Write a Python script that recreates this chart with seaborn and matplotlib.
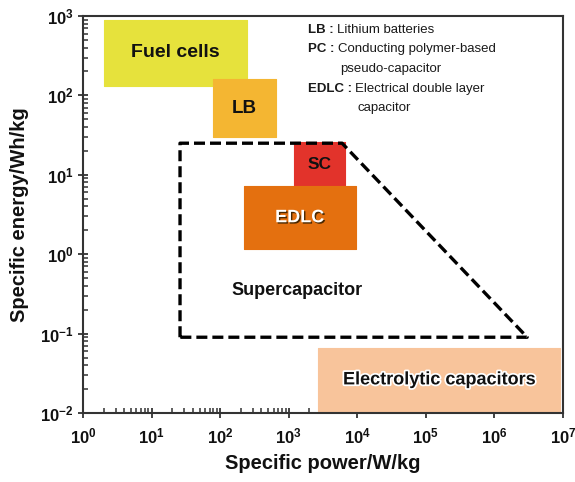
import matplotlib
matplotlib.use("Agg")
import matplotlib.pyplot as plt
import matplotlib.patheffects as pe
from matplotlib.ticker import FixedLocator, FixedFormatter, LogLocator, NullFormatter
import numpy as np
import pandas as pd
import seaborn as sns

# Device regions on the Ragone plot: power (W/kg) and energy (Wh/kg) ranges
devices = ["Fuel cells", "LB", "SC", "EDLC", "Electrolytic capacitors"]
power_lo = [2, 80, 1200, 220, 2700]
power_hi = [250, 650, 6600, 9500, 9.0e6]
energy_lo = [130, 30, 7.0, 1.15, 0.0105]
energy_hi = [900, 160, 26, 7.2, 0.065]
colors = ["#E6E23C", "#F4B632", "#E2332B", "#E4700F", "#F8C49B"]

# Outline of the supercapacitor domain
sc_power = [26, 26, 6000, 3.0e6, 26]
sc_energy = [0.09, 25, 25, 0.09, 0.09]

x_ticks = [1e0, 1e1, 1e2, 1e3, 1e4, 1e5, 1e6, 1e7]
x_labels = [r"$\mathbf{10^{%d}}$" % i for i in range(0, 8)]
y_ticks = [1e-2, 1e-1, 1e0, 1e1, 1e2, 1e3]
y_labels = [r"$\mathbf{10^{%d}}$" % i for i in range(-2, 4)]

# Abbreviation key: (abbreviation, description, x, y) in pixels
key_abbrev = [("LB :", "Lithium batteries", 308, 30),
              ("PC :", "Conducting polymer-based", 308, 49),
              ("", "pseudo-capacitor", 340, 69),
              ("EDLC :", "Electrical double layer", 308, 89),
              ("", "capacitor", 357, 108)]

sns.set_style("ticks")
plt.rcParams["font.family"] = ["Liberation Sans", "DejaVu Sans"]
plt.rcParams["mathtext.fontset"] = "custom"
plt.rcParams["mathtext.bf"] = "Liberation Sans:bold"
plt.rcParams["mathtext.rm"] = "Liberation Sans"

fig = plt.figure(figsize=(5.75, 4.82), dpi=100)
ax = fig.add_axes([83 / 575, 1 - 413 / 482, 480 / 575, 397 / 482])
ax.set_xscale("log")
ax.set_yscale("log")
ax.set_xlim(1, 1e7)
ax.set_ylim(1e-2, 1e3)

label_size = {"Fuel cells": 14, "LB": 13.5, "SC": 12.5, "EDLC": 13,
              "Electrolytic capacitors": 13}

for name, x0, x1, y0, y1, c in zip(devices, power_lo, power_hi, energy_lo, energy_hi, colors):
    ax.fill_between([x0, x1], [y0, y0], [y1, y1], color=c, linewidth=0.8,
                    edgecolor=c, zorder=2)
    cx = np.sqrt(x0 * x1)
    cy = np.sqrt(y0 * y1)
    size = label_size[name]
    if name == "EDLC":
        ax.text(cx, cy, name, ha="center", va="center", fontsize=size,
                fontweight="bold", color="white", zorder=4,
                path_effects=[pe.withSimplePatchShadow(offset=(1, -1), shadow_rgbFace="#3a2000", alpha=0.9)])
    elif name == "Electrolytic capacitors":
        ax.text(cx, cy, name, ha="center", va="center", fontsize=size,
                fontweight="bold", color="#111111", zorder=4,
                path_effects=[pe.withStroke(linewidth=2.5, foreground="white")])
    else:
        ax.text(cx, cy, name, ha="center", va="center", fontsize=size,
                fontweight="bold", color="#111111", zorder=4)

outline = pd.DataFrame({"power": sc_power, "energy": sc_energy, "order": range(len(sc_power))})
sns.lineplot(data=outline, x="power", y="energy", sort=False, estimator=None,
             color="black", linewidth=2.4, dashes=False, ax=ax, zorder=3)
ax.lines[-1].set_linestyle((0, (3.3, 1.5)))
ax.lines[-1].set_solid_joinstyle("miter")

ax.text(1300, 0.35, "Supercapacitor", ha="center", va="center", fontsize=13,
        fontweight="bold", color="#111111")

ax.xaxis.set_major_locator(FixedLocator(x_ticks))
ax.xaxis.set_major_formatter(FixedFormatter(x_labels))
ax.yaxis.set_major_locator(FixedLocator(y_ticks))
ax.yaxis.set_major_formatter(FixedFormatter(y_labels))
ax.xaxis.set_minor_locator(LogLocator(base=10, subs=np.arange(2, 10), numticks=20))
ax.yaxis.set_minor_locator(LogLocator(base=10, subs=np.arange(2, 10), numticks=20))
ax.xaxis.set_minor_formatter(NullFormatter())
ax.yaxis.set_minor_formatter(NullFormatter())
ax.tick_params(which="major", direction="inout", length=7, width=1.3, colors="#333333",
               labelsize=12, labelcolor="#111111", top=False, right=False)
ax.tick_params(which="minor", direction="in", length=3.5, width=1.1, colors="#333333",
               top=False, right=False)
ax.tick_params(axis="x", which="major", pad=6)
for s in ax.spines.values():
    s.set_linewidth(1.5)
    s.set_color("#333333")

ax.set_xlabel("Specific power/W/kg", fontsize=14.5, fontweight="bold", color="#111111", labelpad=6)
ax.set_ylabel("Specific energy/Wh/kg", fontsize=14.5, fontweight="bold", color="#111111", labelpad=8)

for abbrev, desc, px, py in key_abbrev:
    if abbrev:
        t = fig.text(px / 575, 1 - py / 482, abbrev, ha="left", va="center", fontsize=9.5,
                     fontweight="bold", color="#1a1a1a")
        fig.add_artist(matplotlib.text.Annotation(
            desc, xy=(1, 0.5), xycoords=t, xytext=(2.5, 0), textcoords="offset points",
            ha="left", va="center", fontsize=9.5, color="#1a1a1a"))
    else:
        fig.text(px / 575, 1 - py / 482, desc, ha="left", va="center", fontsize=9.5,
                 color="#1a1a1a")

fig.savefig("out.png", dpi=100)
